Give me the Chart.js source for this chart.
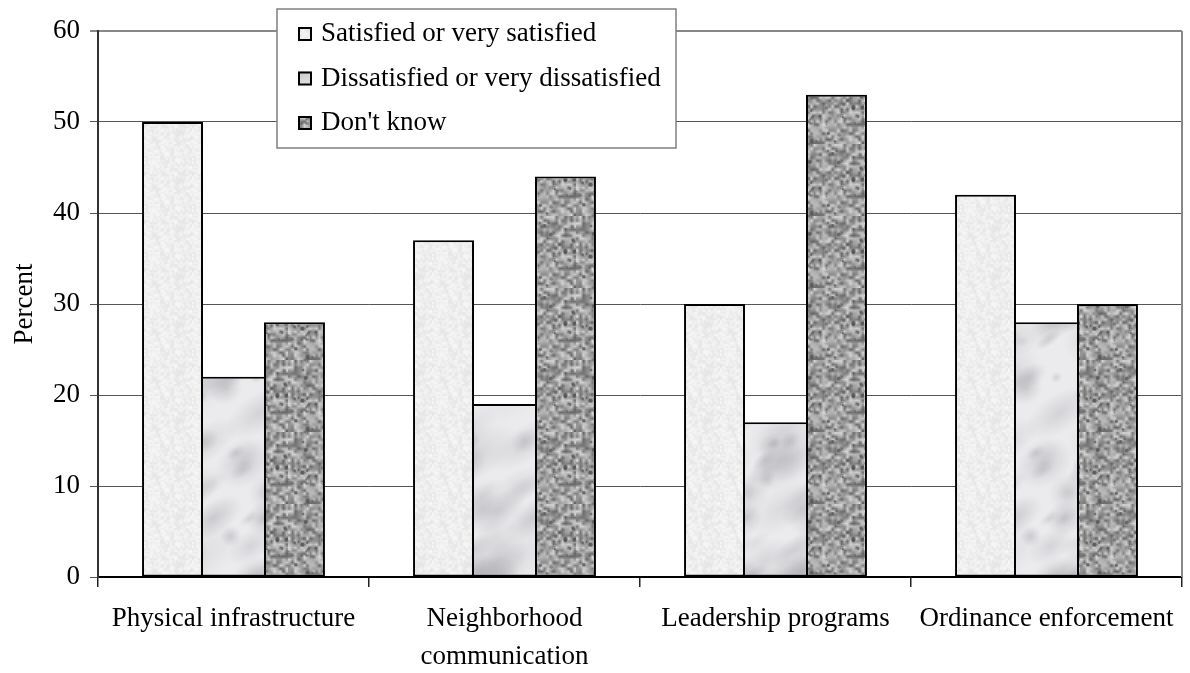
<!DOCTYPE html>
<html>
<head>
<meta charset="utf-8">
<script src="https://cdn.jsdelivr.net/npm/chart.js@4"></script>
<style>
  body { margin: 0; background: #fff; }
  #wrap { width: 1190px; height: 673px; }
</style>
</head>
<body>
<div id="wrap"><canvas id="chart" width="1190" height="673"></canvas></div>
<script>
// data
const categories = ['Physical infrastructure', ['Neighborhood', 'communication'], 'Leadership programs', 'Ordinance enforcement'];
const seriesNames = ['Satisfied or very satisfied', 'Dissatisfied or very dissatisfied', "Don't know"];
const satisfied = [50, 37, 30, 42];
const dissatisfied = [22, 19, 17, 28];
const dontKnow = [28, 44, 53, 30];
const yMin = 0, yMax = 60, yStep = 10;

const FONT = '"Liberation Serif", "Times New Roman", serif';
const FS = 27;

// small seeded generator, only used for the fill textures
function rng(seed) {
    return function () {
        seed |= 0; seed = seed + 0x6D2B79F5 | 0;
        let t = Math.imul(seed ^ seed >>> 15, 1 | seed);
        t = t + Math.imul(t ^ t >>> 7, 61 | t) ^ t;
        return ((t ^ t >>> 14) >>> 0) / 4294967296;
    };
}

function speckle(size, cell, lo, hi, seed) {
    const rand = rng(seed);
    const small = document.createElement('canvas');
    small.width = small.height = size / cell;
    const sctx = small.getContext('2d');
    const img = sctx.createImageData(small.width, small.height);
    for (let i = 0; i < img.data.length; i += 4) {
        const v = Math.round(lo + (hi - lo) * rand());
        img.data[i] = img.data[i + 1] = img.data[i + 2] = v;
        img.data[i + 3] = 255;
    }
    sctx.putImageData(img, 0, 0);
    const c = document.createElement('canvas');
    c.width = c.height = size;
    const ctx = c.getContext('2d');
    ctx.imageSmoothingEnabled = true;
    ctx.drawImage(small, 0, 0, size, size);
    return c;
}

function satisfiedTexture() {
    const c = speckle(48, 2, 228, 250, 11);
    return c.getContext('2d').createPattern(c, 'repeat');
}

function dissatisfiedTexture() {
    const rand = rng(23);
    const c = document.createElement('canvas');
    c.width = 160; c.height = 260;
    const ctx = c.getContext('2d');
    ctx.fillStyle = '#ebebee';
    ctx.fillRect(0, 0, c.width, c.height);
    for (let i = 0; i < 70; i++) {
        const x = rand() * c.width, y = rand() * c.height, r = 5 + rand() * 20;
        const sx = 1 + rand() * 1.5, a = 0.1 + rand() * 0.25;
        for (const ox of [-c.width, 0, c.width]) {
            for (const oy of [-c.height, 0, c.height]) {
                ctx.save();
                ctx.translate(x + ox, y + oy);
                ctx.rotate(-0.6);
                ctx.scale(sx, 1);
                const g = ctx.createRadialGradient(0, 0, 0, 0, 0, r);
                g.addColorStop(0, 'rgba(140,140,145,' + a + ')');
                g.addColorStop(1, 'rgba(140,140,145,0)');
                ctx.fillStyle = g;
                ctx.fillRect(-r, -r, 2 * r, 2 * r);
                ctx.restore();
            }
        }
    }
    return ctx.createPattern(c, 'repeat');
}

function dontKnowTexture() {
    const c = speckle(72, 3, 100, 215, 37);
    const ctx = c.getContext('2d');
    const rand = rng(41);
    for (let i = 0; i < 45; i++) {
        const x = rand() * 72, y = rand() * 72, r = 0.8 + rand() * 1.4;
        ctx.fillStyle = 'rgba(70,70,70,' + (0.35 + rand() * 0.35) + ')';
        for (const ox of [-72, 0, 72]) {
            for (const oy of [-72, 0, 72]) {
                ctx.beginPath();
                ctx.arc(x + ox, y + oy, r, 0, Math.PI * 2);
                ctx.fill();
            }
        }
    }
    return ctx.createPattern(c, 'repeat');
}

const fills = [satisfiedTexture(), dissatisfiedTexture(), dontKnowTexture()];
const values = [satisfied, dissatisfied, dontKnow];

// shared edges between touching bars are drawn once, by the taller bar
function barBorder(ctx) {
    const i = ctx.datasetIndex, k = ctx.dataIndex;
    const v = values[i][k];
    const last = values.length - 1;
    return {
        top: 2,
        bottom: 2,
        left: i === 0 || v > values[i - 1][k] ? 2 : 0,
        right: i === last || v >= values[i + 1][k] ? 2 : 0
    };
}

const frame = {
    id: 'frame',
    beforeDatasetsDraw(chart) {
        const { ctx, chartArea } = chart;
        ctx.save();
        ctx.strokeStyle = '#888';
        ctx.lineWidth = 2;
        ctx.beginPath();
        ctx.moveTo(chartArea.right, chartArea.top);
        ctx.lineTo(chartArea.right, chartArea.bottom);
        ctx.stroke();
        ctx.restore();
    }
};

const boxLegend = {
    id: 'boxLegend',
    afterDatasetsDraw(chart) {
        const ctx = chart.ctx;
        ctx.save();
        ctx.fillStyle = '#fff';
        ctx.fillRect(277, 9, 399, 139);
        ctx.strokeStyle = '#808080';
        ctx.lineWidth = 1.5;
        ctx.strokeRect(277, 9, 399, 139);
        ctx.font = FS + 'px ' + FONT;
        ctx.textBaseline = 'alphabetic';
        chart.data.datasets.forEach((ds, i) => {
            const y = 27 + i * 44.5;
            ctx.fillStyle = ds.backgroundColor;
            ctx.fillRect(298, y, 14, 14);
            ctx.strokeStyle = '#000';
            ctx.lineWidth = 2;
            ctx.strokeRect(299, y + 1, 12, 12);
            ctx.fillStyle = '#000';
            ctx.fillText(ds.label, 321, y + 14);
        });
        ctx.restore();
    }
};

new Chart(document.getElementById('chart'), {
    type: 'bar',
    data: {
        labels: categories,
        datasets: seriesNames.map((name, i) => ({
            label: name,
            data: values[i],
            backgroundColor: fills[i],
            borderColor: '#000',
            borderWidth: barBorder,
            borderSkipped: false,
            categoryPercentage: 0.675,
            barPercentage: 1
        }))
    },
    options: {
        responsive: false,
        animation: false,
        layout: { padding: { left: 0, top: 31, right: 8, bottom: 0 } },
        plugins: {
            legend: { display: false },
            tooltip: { enabled: false }
        },
        scales: {
            x: {
                grid: { drawOnChartArea: false, drawTicks: true, tickLength: 10, color: '#222', lineWidth: 1.5 },
                border: { color: '#000', width: 2 },
                ticks: { color: '#000', padding: 13, maxRotation: 0, font: { family: FONT, size: FS, lineHeight: 1.4 } },
                afterFit(scale) { scale.height = 96; }
            },
            y: {
                min: yMin,
                max: yMax,
                ticks: { stepSize: yStep, color: '#000', padding: 10, font: { family: FONT, size: FS } },
                grid: {
                    tickLength: 8,
                    color: (c) => c.tick && c.tick.value === yMax ? '#888' : '#555',
                    lineWidth: (c) => c.tick && c.tick.value === yMax ? 2 : 1
                },
                border: { color: '#333', width: 2 },
                title: { display: true, text: 'Percent', color: '#000', padding: { top: 9, bottom: 0 }, font: { family: FONT, size: FS } },
                afterFit(scale) { scale.width = 98; }
            }
        }
    },
    plugins: [frame, boxLegend]
});
</script>
</body>
</html>
